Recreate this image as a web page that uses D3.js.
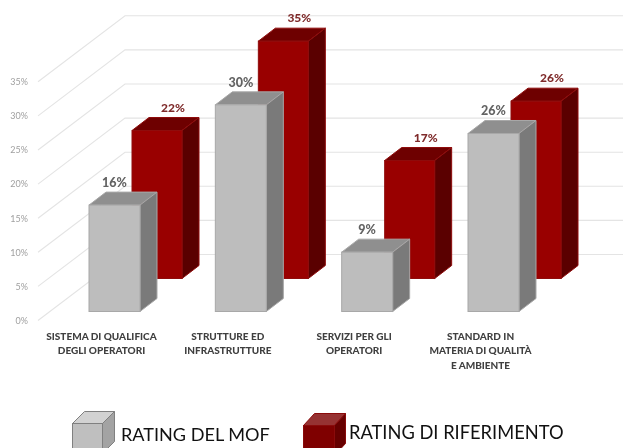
<!DOCTYPE html>
<html>
<head>
<meta charset="utf-8">
<script src="https://cdn.jsdelivr.net/npm/d3@7"></script>
<style>
  html, body { margin: 0; padding: 0; background: #fff; }
  svg { display: block; font-family: Lato, "Open Sans", sans-serif; filter: blur(0.35px); }
</style>
</head>
<body>
<div id="chart"></div>
<script>
// values
const categories = ["SISTEMA DI QUALIFICA", "STRUTTURE ED", "SERVIZI PER GLI", "STANDARD IN"];
const categoryLines = [
  ["SISTEMA DI QUALIFICA", "DEGLI OPERATORI"],
  ["STRUTTURE ED", "INFRASTRUTTURE"],
  ["SERVIZI PER GLI", "OPERATORI"],
  ["STANDARD IN", "MATERIA DI QUALITÀ", "E AMBIENTE"]
];
const mofValues = [15.6, 30.3, 8.7, 26.1];
const refValues = [21.7, 34.8, 17.3, 26.0];
const mofLabels = ["16%", "30%", "9%", "26%"];
const refLabels = ["22%", "35%", "17%", "26%"];
const yTicks = [0, 5, 10, 15, 20, 25, 30, 35];
const legendNames = ["RATING DEL MOF", "RATING DI RIFERIMENTO"];

const width = 623, height = 448;
const wall = { dx: 87, dy: 66 };    // front edge of the floor to the back wall
const bar = { w: 51, dx: 17, dy: 13 };

const svg = d3.select("#chart").append("svg")
  .attr("width", width)
  .attr("height", height);

const y = d3.scaleLinear().domain([0, 35]).range([320.5, 81.8]);
const x = d3.scalePoint().domain(categories).range([89, 468]);

// gridlines, side wall then back wall
const grid = svg.append("g");
grid.selectAll("polyline")
  .data(yTicks)
  .enter()
  .append("polyline")
  .attr("points", d => `38,${y(d)} ${38 + wall.dx},${y(d) - wall.dy} ${width},${y(d) - wall.dy}`)
  .style("fill", "none")
  .style("stroke", "#e4e4e4")
  .style("stroke-width", 1.1);

// axis labels only
const axis = svg.append("g")
  .attr("transform", "translate(28,0)")
  .call(d3.axisLeft(y).tickValues(yTicks).tickSize(0).tickPadding(0).tickFormat(d => d + "%"));
axis.select(".domain").remove();
axis.selectAll("text")
  .style("font-size", "9px")
  .style("font-family", "Lato, sans-serif")
  .style("fill", "#a0a0a0");

function drawCube(g, px, py, h, w, dx, dy, c) {
  g.append("path")
    .attr("d", `M${px},${py} l${dx},${-dy} h${w} l${-dx},${dy} z`)
    .style("fill", c.top).style("stroke", c.stroke).style("stroke-width", 1);
  g.append("path")
    .attr("d", `M${px + w},${py} l${dx},${-dy} v${h} l${-dx},${dy} z`)
    .style("fill", c.side).style("stroke", c.stroke).style("stroke-width", 1);
  g.append("rect")
    .attr("x", px).attr("y", py).attr("width", w).attr("height", h)
    .style("fill", c.front).style("stroke", c.stroke).style("stroke-width", 1);
}

const refColors = { front: "#990000", top: "#6e0000", side: "#5a0000", stroke: "#8f0c0c" };
const mofColors = { front: "#bdbdbd", top: "#8f8f8f", side: "#7a7a7a", stroke: "#a8a8a8" };

// red row sits behind the grey one
const refBars = svg.append("g");
categories.forEach((c, i) => {
  const top = y(refValues[i]) - 42;
  drawCube(refBars, x(c) + 43, top, y(0) - y(refValues[i]), bar.w - 1, bar.dx, bar.dy, refColors);
  refBars.append("text")
    .attr("x", x(c) + 84)
    .attr("y", top - 19)
    .attr("text-anchor", "middle")
    .style("font-size", "12px")
    .style("font-weight", 900)
    .style("fill", "#7f2b2b")
    .text(refLabels[i]);
});

const mofBars = svg.append("g");
categories.forEach((c, i) => {
  const top = y(mofValues[i]) - 9;
  drawCube(mofBars, x(c), top, y(0) - y(mofValues[i]), bar.w, bar.dx, bar.dy, mofColors);
  mofBars.append("text")
    .attr("x", x(c) + 25.5)
    .attr("y", top - 18)
    .attr("text-anchor", "middle")
    .style("font-size", "12.5px")
    .style("font-weight", 900)
    .style("fill", "#636363")
    .text(mofLabels[i]);
});

// category labels
const catLabels = svg.append("g");
categories.forEach((c, i) => {
  catLabels.selectAll(null)
    .data(categoryLines[i])
    .enter()
    .append("text")
    .attr("x", x(c) + 12.5)
    .attr("y", (d, j) => 339.5 + j * 14.5)
    .attr("text-anchor", "middle")
    .style("font-size", "10px")
    .style("font-weight", 900)
    .style("fill", "#404040")
    .text(d => d);
});

// legend
const legend = svg.append("g");
drawCube(legend, 72.5, 423.5, 30, 30, 12, 12,
  { front: "#bfbfbf", top: "#d2d2d2", side: "#a3a3a3", stroke: "#808080" });
drawCube(legend, 303.5, 425.5, 30, 31, 11, 12,
  { front: "#7f0000", top: "#963232", side: "#660000", stroke: "#8a0b0b" });
legend.append("text")
  .attr("x", 121).attr("y", 441)
  .style("font-size", "18.1px").style("fill", "#111")
  .text(legendNames[0]);
legend.append("text")
  .attr("x", 349).attr("y", 439)
  .style("font-size", "18.3px").style("fill", "#111")
  .text(legendNames[1]);
</script>
</body>
</html>
